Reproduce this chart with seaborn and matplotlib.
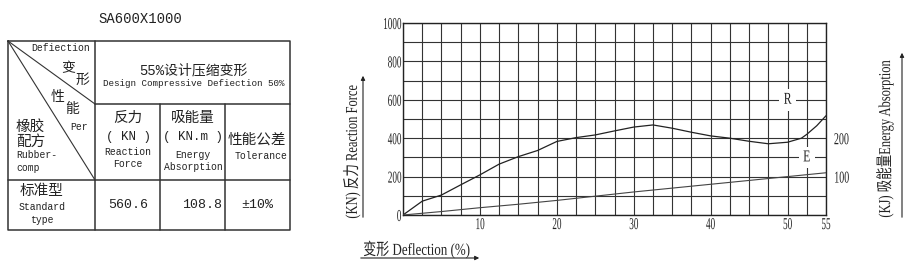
import numpy as np
import pandas as pd
import matplotlib
matplotlib.use("Agg")
import matplotlib.pyplot as plt
from matplotlib.patheffects import AbstractPathEffect
from matplotlib.transforms import Affine2D
import seaborn as sns

# ---------------- data ----------------
title = "SA600X1000"
force_defl = [0, 2.5, 5, 7.5, 10, 12.5, 15, 17.5, 20, 22.5, 25, 27.5, 30, 32.5,
              35, 37.5, 40, 42.5, 45, 47.5, 50, 51.8, 52.5, 53.8, 55]
force_kn = [0, 72, 104, 157, 209, 265, 304, 336, 383, 403, 417, 438, 458, 469,
            452, 431, 412, 400, 384, 371, 379, 400, 420, 465, 517]
energy_defl = [0, 5, 10, 15, 20, 25, 30, 35, 40, 45, 50, 55]
energy_kj = [0, 9, 19, 28, 38, 49, 60, 70, 80, 90, 100, 110]
x_ticks = [10, 20, 30, 40, 50, 55]
y_ticks = [0, 200, 400, 600, 800, 1000]
y2_ticks = [100, 200]
table_values = ["560.6", "108.8", "±10%"]

sns.set_style("white")

CJK = "Noto Sans CJK SC"
SERIF = "Liberation Serif"
INK = "#222"


class Squeeze(AbstractPathEffect):
    """Draw text compressed along one direction (imitates a condensed face)."""

    def __init__(self, s=0.6, anchor="center", axis="x"):
        super().__init__()
        self.s, self.anchor, self.axis = s, anchor, axis

    def draw_path(self, renderer, gc, tpath, affine, rgbFace=None):
        ext = tpath.get_extents(affine)
        if self.axis == "x":
            a = {"left": ext.x0, "right": ext.x1}.get(self.anchor, (ext.x0 + ext.x1) / 2)
            t = affine + Affine2D().translate(-a, 0).scale(self.s, 1).translate(a, 0)
        else:
            a = (ext.y0 + ext.y1) / 2
            t = affine + Affine2D().translate(0, -a).scale(1, self.s).translate(0, a)
        renderer.draw_path(gc, tpath, t, rgbFace)


def cf(size, s=0.6, anchor="center", axis="x"):
    return dict(family=[SERIF, CJK], fontsize=size, color=INK,
                path_effects=[Squeeze(s, anchor, axis)])


def mf(size):
    return dict(family=["Liberation Mono", CJK], fontsize=size, color=INK)


W, H = 908, 264
fig = plt.figure(figsize=(W / 100, H / 100), dpi=100)

# ---------------- chart ----------------
L, R, T, B = 403, 826, 23, 215
ax = fig.add_axes([L / W, 1 - B / H, (R - L) / W, (B - T) / H])
df_r = pd.DataFrame({"defl": force_defl, "force": force_kn})
df_e = pd.DataFrame({"defl": energy_defl, "energy": energy_kj})
sns.lineplot(data=df_r, x="defl", y="force", ax=ax, color=INK, lw=0.9, zorder=5)
ax.set_xlim(0, 55)
ax.set_ylim(0, 1000)
ax.set_xticks(x_ticks)
ax.set_xticks(np.arange(0, 55.01, 2.5), minor=True)
ax.set_yticks(y_ticks)
ax.set_yticks(np.arange(0, 1000.1, 100), minor=True)
ax.grid(which="both", color="#333", lw=0.8)
ax.tick_params(which="both", length=0)
ax.tick_params(axis="y", pad=1)
ax.tick_params(axis="x", pad=1.5)
for lab in ax.get_xticklabels():
    lab.set(**cf(12, 0.55, "center"))
for lab in ax.get_yticklabels():
    lab.set(**cf(12, 0.55, "right"))
ax.set_xlabel("")
ax.set_ylabel("")
for s in ax.spines.values():
    s.set_color(INK)
    s.set_linewidth(1.0)
ax.text(50, 600, "R", ha="center", va="center", zorder=6, **cf(12, 0.7),
        bbox=dict(facecolor="white", edgecolor="none", pad=2.0))
ax.text(52.5, 300, "E", ha="center", va="center", zorder=6, **cf(12, 0.7),
        bbox=dict(facecolor="white", edgecolor="none", pad=2.0))

ax2 = ax.twinx()
sns.lineplot(data=df_e, x="defl", y="energy", ax=ax2, color="#444", lw=0.8)
ax2.set_ylim(0, 500)
ax2.set_yticks(y2_ticks)
ax2.tick_params(length=0, pad=5.5)
for lab in ax2.get_yticklabels():
    lab.set(**cf(12, 0.6, "left"))
ax2.set_ylabel("")
ax2.set_xlabel("")
ax2.grid(False)
for s in ax2.spines.values():
    s.set_visible(False)

# ---------------- overlay (table + axis captions) ----------------
ov = fig.add_axes([0, 0, 1, 1], facecolor="none")
ov.set_xlim(0, W)
ov.set_ylim(H, 0)
ov.axis("off")

lc = dict(color="#333", lw=1.1)
arr = dict(arrowstyle="-|>", color=INK, lw=0.8, mutation_scale=6)
# axis captions with arrows
ov.text(352, 152, "(KN) 反力 Reaction Force", rotation=90, ha="center", va="center",
        **cf(12, 0.75, axis="y"))
ov.annotate("", xy=(363, 73), xytext=(363, 220), arrowprops=arr)
ov.text(885, 139, "(KJ) 吸能量Energy Absorption", rotation=90, ha="center", va="center",
        **cf(12, 0.75, axis="y"))
ov.annotate("", xy=(902, 50), xytext=(902, 220), arrowprops=arr)
ov.text(363, 250, "变形 Deflection (%)", ha="left", va="center", **cf(12, 0.78, "left"))
ov.annotate("", xy=(482, 258), xytext=(358, 258), arrowprops=arr)

# table
ov.text(140, 19, title, ha="center", va="center", **mf(10))
x0, x1, x2, x3, x4 = 8, 95, 160, 225, 290
y0, y1, y2, y3 = 41, 104, 180, 230
ov.plot([x0, x4, x4, x0, x0], [y0, y0, y3, y3, y0], **lc)
ov.plot([x1, x1], [y0, y3], **lc)
ov.plot([x1, x4], [y1, y1], **lc)
ov.plot([x0, x4], [y2, y2], **lc)
ov.plot([x2, x2], [y1, y3], **lc)
ov.plot([x3, x3], [y1, y3], **lc)
ov.plot([x0, x1], [y0, y1], color="#333", lw=0.8)
ov.plot([x0, x1], [y0, y2], color="#333", lw=0.8)

ov.text(61, 48, "Defiection", ha="center", va="center", **mf(7))
ov.text(68, 68, "变", ha="center", va="center", **mf(10))
ov.text(82, 80, "形", ha="center", va="center", **mf(10))
ov.text(58, 97, "性", ha="center", va="center", **mf(10))
ov.text(72, 109, "能", ha="center", va="center", **mf(10))
ov.text(79, 127, "Per", ha="center", va="center", **mf(7))
ov.text(16, 127, "橡胶", ha="left", va="center", **mf(10.5))
ov.text(16, 142, "配方", ha="left", va="center", **mf(10.5))
ov.text(16, 155, "Rubber-", ha="left", va="center", **mf(7))
ov.text(16, 168, "comp", ha="left", va="center", **mf(7))

ov.text(193, 70, "55%设计压缩变形", ha="center", va="center", **mf(10))
ov.text(194, 84, "Design Compressive Defiection 50%", ha="center", va="center", **mf(6.7))

ov.text(128, 118, "反力", ha="center", va="center", **mf(10.5))
ov.text(128, 137, "( KN )", ha="center", va="center", **mf(9))
ov.text(128, 152, "Reaction", ha="center", va="center", **mf(7))
ov.text(128, 164, "Force", ha="center", va="center", **mf(7))

ov.text(193, 118, "吸能量", ha="center", va="center", **mf(10.5))
ov.text(193, 137, "( KN.m )", ha="center", va="center", **mf(9))
ov.text(193, 155, "Energy", ha="center", va="center", **mf(7))
ov.text(193, 167, "Absorption", ha="center", va="center", **mf(7))

ov.text(257, 140, "性能公差", ha="center", va="center", **mf(10.5))
ov.text(261, 156, "Tolerance", ha="center", va="center", **mf(7))

ov.text(42, 191, "标准型", ha="center", va="center", **mf(10.5))
ov.text(42, 207, "Standard", ha="center", va="center", **mf(7))
ov.text(42, 220, "type", ha="center", va="center", **mf(7))
ov.text(128, 205, table_values[0], ha="center", va="center", **mf(9.5))
ov.text(202, 205, table_values[1], ha="center", va="center", **mf(9.5))
ov.text(257, 205, table_values[2], ha="center", va="center", **mf(9.5))

fig.savefig("out.png", dpi=100, facecolor="white")
